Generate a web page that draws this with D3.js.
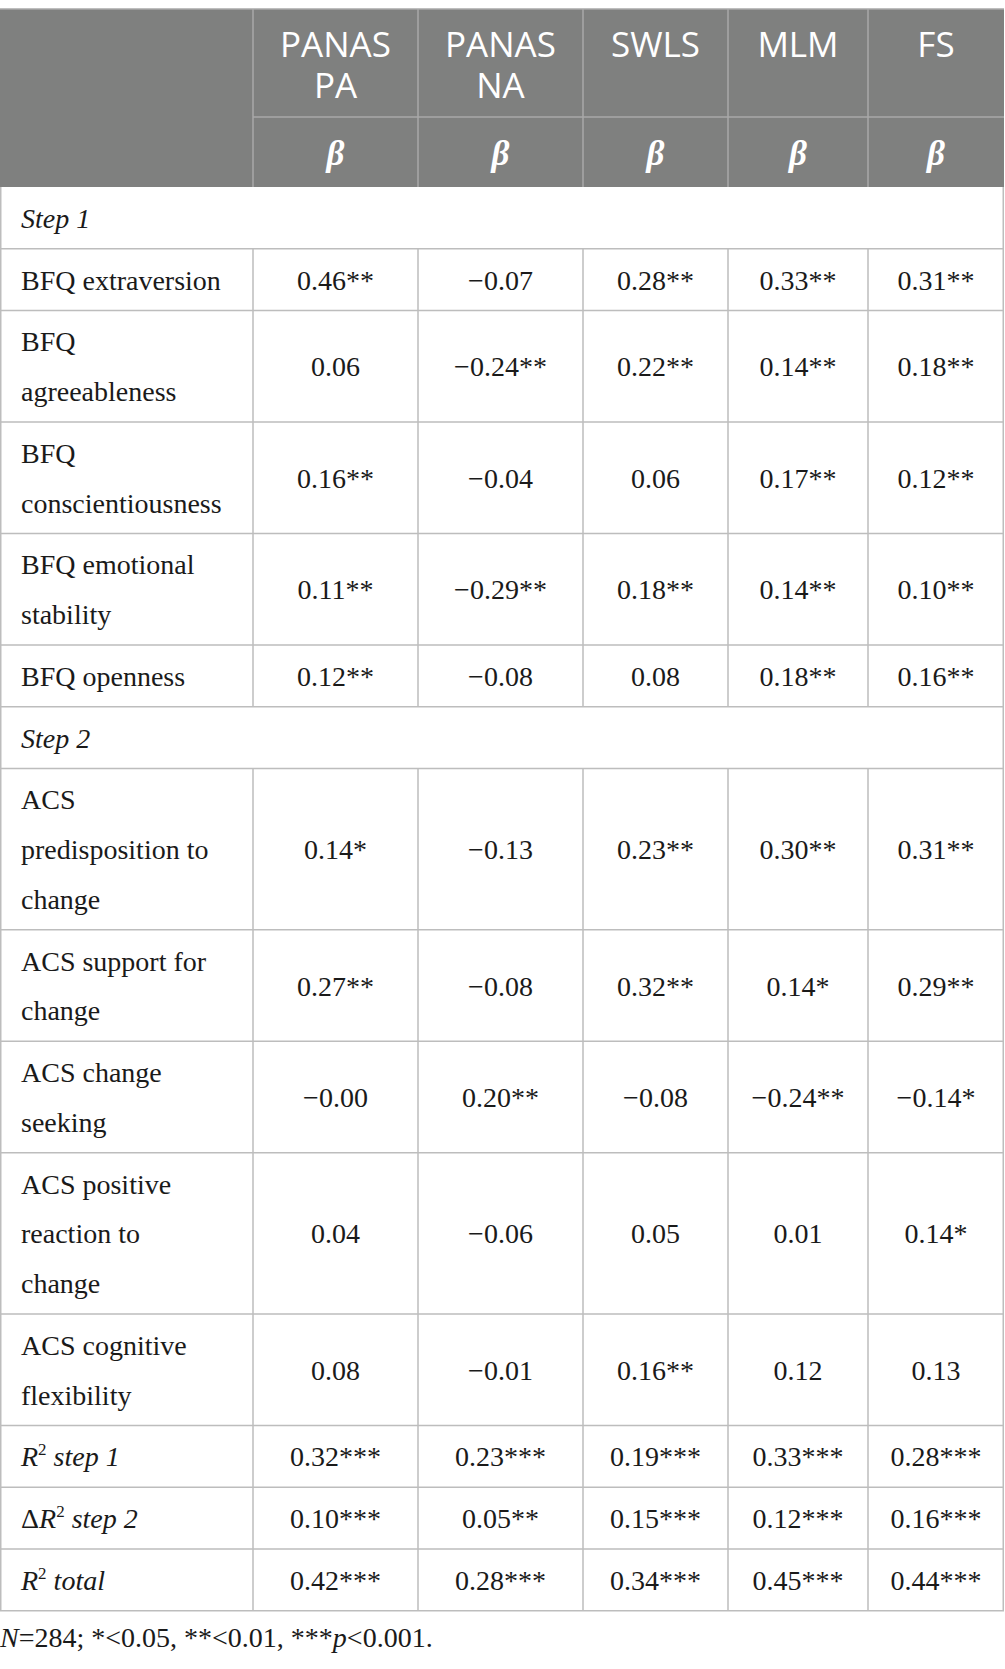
<!DOCTYPE html>
<html>
<head>
<meta charset="utf-8">
<script src="https://cdn.jsdelivr.net/npm/d3@7"></script>
<style>
  body { margin: 0; background: #fff; }
  svg text { font-family: "Liberation Serif", "Times New Roman", serif; fill: #1a1a1a; }
</style>
</head>
<body>
<svg id="chart" width="1005" height="1669"></svg>
<script>
// column headers (line breaks as in the original)
const columns = ["PANAS\nPA", "PANAS\nNA", "SWLS", "MLM", "FS"];
const subHeader = "β";

const rowLabels = [
  "Step 1",
  "BFQ extraversion",
  "BFQ\nagreeableness",
  "BFQ\nconscientiousness",
  "BFQ emotional\nstability",
  "BFQ openness",
  "Step 2",
  "ACS\npredisposition to\nchange",
  "ACS support for\nchange",
  "ACS change\nseeking",
  "ACS positive\nreaction to\nchange",
  "ACS cognitive\nflexibility",
  "R^2 step 1",
  "ΔR^2 step 2",
  "R^2 total"
];
const stepRows = ["Step 1", "Step 2"];

// beta values per column, "" for the section rows
const panasPA = ["", "0.46**", "0.06", "0.16**", "0.11**", "0.12**", "", "0.14*", "0.27**", "−0.00", "0.04", "0.08", "0.32***", "0.10***", "0.42***"];
const panasNA = ["", "−0.07", "−0.24**", "−0.04", "−0.29**", "−0.08", "", "−0.13", "−0.08", "0.20**", "−0.06", "−0.01", "0.23***", "0.05**", "0.28***"];
const swls    = ["", "0.28**", "0.22**", "0.06", "0.18**", "0.08", "", "0.23**", "0.32**", "−0.08", "0.05", "0.16**", "0.19***", "0.15***", "0.34***"];
const mlm     = ["", "0.33**", "0.14**", "0.17**", "0.14**", "0.18**", "", "0.30**", "0.14*", "−0.24**", "0.01", "0.12", "0.33***", "0.12***", "0.45***"];
const fs      = ["", "0.31**", "0.18**", "0.12**", "0.10**", "0.16**", "", "0.31**", "0.29**", "−0.14*", "0.14*", "0.13", "0.28***", "0.16***", "0.44***"];
const series = [panasPA, panasNA, swls, mlm, fs];

const svg = d3.select("#chart");

// layout
const colEdges = [0, 253, 418, 583, 728, 868, 1004];
const x = d3.scaleOrdinal().domain(["label", ...columns]).range(colEdges.slice(0, -1));
const colW = c => colEdges[x.domain().indexOf(c) + 1] - x(c);

const tableTop = 9, headSplit = 117, bodyTop = 187;
const lineH = 49.75, pad = 12;
const heights = rowLabels.map(l => pad + lineH * l.split("\n").length);
const tops = [bodyTop, ...d3.cumsum(heights).map(v => bodyTop + v)];
const y = d3.scaleOrdinal().domain(rowLabels).range(tops.slice(0, -1));
const rowH = l => heights[rowLabels.indexOf(l)];
const tableBottom = tops[tops.length - 1];

const bodyLine = "#bdbdbd", headLine = "#a8a8a8";

// header block
svg.append("rect")
  .attr("x", 0).attr("y", tableTop)
  .attr("width", colEdges[6]).attr("height", bodyTop - tableTop)
  .attr("fill", "#7f807f");

svg.selectAll(".hv")
  .data(columns)
  .enter().append("line")
  .attr("x1", d => x(d)).attr("x2", d => x(d))
  .attr("y1", tableTop).attr("y2", bodyTop)
  .attr("stroke", headLine).attr("stroke-width", 1.5);

svg.append("line")
  .attr("x1", colEdges[1]).attr("x2", colEdges[6])
  .attr("y1", headSplit).attr("y2", headSplit)
  .attr("stroke", headLine).attr("stroke-width", 1.5);

const head = svg.selectAll(".head")
  .data(columns)
  .enter().append("text")
  .attr("text-anchor", "middle")
  .style("font-family", "'Open Sans', sans-serif")
  .style("font-size", "35px")
  .style("fill", "#fff");
head.selectAll("tspan")
  .data(d => d.split("\n").map(t => ({ t, c: d })))
  .enter().append("tspan")
  .attr("x", d => x(d.c) + colW(d.c) / 2)
  .attr("y", (d, i) => 57 + i * 41)
  .text(d => d.t);

svg.selectAll(".beta")
  .data(columns)
  .enter().append("text")
  .attr("x", d => x(d) + colW(d) / 2)
  .attr("y", 165)
  .attr("text-anchor", "middle")
  .style("font-size", "35px")
  .style("font-weight", "bold")
  .style("font-style", "italic")
  .style("fill", "#fff")
  .text(subHeader);

// body grid
svg.selectAll(".hrow")
  .data(rowLabels)
  .enter().append("line")
  .attr("x1", 0).attr("x2", colEdges[6])
  .attr("y1", d => y(d) + rowH(d)).attr("y2", d => y(d) + rowH(d))
  .attr("stroke", bodyLine).attr("stroke-width", 1.5);

const cellRows = rowLabels.filter(l => !stepRows.includes(l));
svg.selectAll(".vrow")
  .data(d3.cross(cellRows, columns))
  .enter().append("line")
  .attr("x1", d => x(d[1])).attr("x2", d => x(d[1]))
  .attr("y1", d => y(d[0])).attr("y2", d => y(d[0]) + rowH(d[0]))
  .attr("stroke", bodyLine).attr("stroke-width", 1.5);

// outer edges
[0.75, colEdges[6] - 0.75].forEach(xx => {
  svg.append("line")
    .attr("x1", xx).attr("x2", xx)
    .attr("y1", bodyTop).attr("y2", tableBottom)
    .attr("stroke", bodyLine).attr("stroke-width", 1.5);
});
svg.append("line")
  .attr("x1", 0).attr("x2", colEdges[6])
  .attr("y1", tableTop).attr("y2", tableTop)
  .attr("stroke", headLine).attr("stroke-width", 1.5);

// row labels
const labels = svg.selectAll(".label")
  .data(rowLabels)
  .enter().append("text")
  .style("font-size", "28px");

labels.each(function (d) {
  const t = d3.select(this);
  const cy = y(d) + rowH(d) / 2;
  if (d.includes("R^2")) {
    const [pre, post] = d.split("R^2");
    t.attr("x", 21).attr("y", cy + 10);
    if (pre) t.append("tspan").text(pre);
    t.append("tspan").style("font-style", "italic").text("R");
    t.append("tspan").attr("dy", -11).style("font-size", "17px").text("2");
    t.append("tspan").attr("dy", 11).style("font-style", "italic").text(post);
    return;
  }
  const lines = d.split("\n");
  if (stepRows.includes(d)) t.style("font-style", "italic");
  t.selectAll("tspan")
    .data(lines)
    .enter().append("tspan")
    .attr("x", 21)
    .attr("y", (l, i) => cy + (i - (lines.length - 1) / 2) * lineH + 10)
    .text(l => l);
});

// values
columns.forEach((c, ci) => {
  svg.selectAll(".v" + ci)
    .data(series[ci].map((v, i) => ({ v, r: rowLabels[i] })).filter(d => d.v !== ""))
    .enter().append("text")
    .attr("x", x(c) + colW(c) / 2)
    .attr("y", d => y(d.r) + rowH(d.r) / 2 + 10)
    .attr("text-anchor", "middle")
    .style("font-size", "28px")
    .text(d => d.v);
});

// footnote
const note = svg.append("text")
  .attr("x", 0).attr("y", 1647)
  .style("font-size", "28px");
note.append("tspan").style("font-style", "italic").text("N");
note.append("tspan").text("=284; *<0.05, **<0.01, ***");
note.append("tspan").style("font-style", "italic").text("p");
note.append("tspan").text("<0.001.");
</script>
</body>
</html>
